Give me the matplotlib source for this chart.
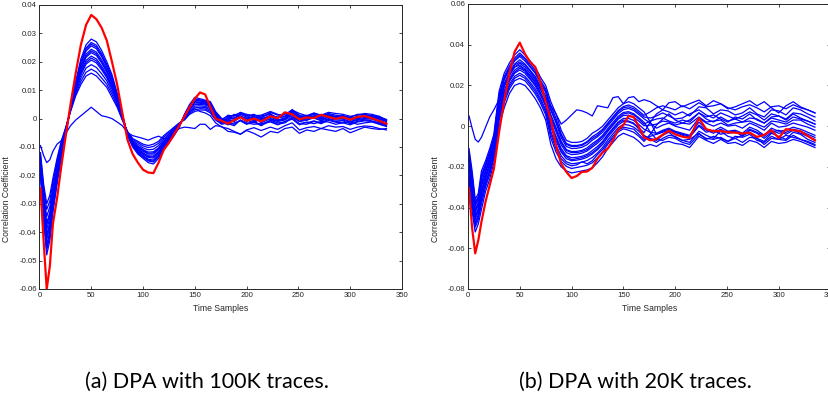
import numpy as np
from matplotlib import pyplot as plt
from matplotlib.ticker import FuncFormatter

# time sample positions shared by every trace
samples = [1, 4, 7, 10, 13, 17, 21, 25, 30, 35, 40, 45, 50, 55, 60, 65, 70, 75, 80, 85,
           90, 95, 100, 105, 110, 115, 120, 125, 130, 135, 140, 145, 150, 155, 160, 165, 170,
           176, 182, 188, 194, 200, 207, 214, 223, 230, 237, 244, 251, 258, 265, 272, 279,
           286, 293, 300, 307, 314, 321, 328, 335]

# ---- (a) 100K traces, correlation values in units of 1e-3 ----
a_correct = [-24.5, -43, -60, -52, -37, -28, -17, -7,
             5, 16, 26, 33, 36.5, 35, 32, 27.5, 20, 12,
             2, -7.5, -12.5, -15.5, -18, -19, -19.2, -15.5, -11, -8.5,
             -5.5, -2.5, 0.8, 4, 7, 9.2, 8.5, 4, 0,
             -0.8, -1.8, -0.5, 0.5, -0.8, 0, -1, 0.8, 0.1, 2.2, 1.5, -0.3, 0.4, 0.2, 1.3, 0.6,
             -0.1, 0.5, -0.4, 0.6, 0.9, 0.1, -0.8, -1.8]
a_odd = [-9.5, -13, -15.5, -14.5, -11.5, -9, -7.8, -5.5,
         -2.5, -0.5, 1, 2.5, 4, 2.5, 1, 0.6, 0, -1.2,
         -2.5, -5, -6, -6.5, -7, -7.6, -6.8, -6.2, -7, -7.5,
         -5, -3.5, -3, -3.2, -3.5, -2, -2, -3.8, -2.5,
         -2.8, -4.5, -4.8, -5.5, -4.2, -5.2, -6.5, -4.5, -5, -3.5, -3, -5.2, -4, -4.5, -3.5, -4,
         -4.5, -3.5, -5, -4, -3, -3.5, -3.8, -3.5]
a_key1 = [-12, -23, -30, -27, -21, -14, -8, -3.5, 2.5, 8, 12, 15, 16, 15, 13, 11, 7.5, 4, -0.5,
          -4.5, -7, -8, -9, -9.5, -9, -8, -6, -4.5, -3, -1.5, -0.5, 1.5, 2.5, 3, 3, 2, -0.5, -2,
          -1.5, -2, -0.5, -1.8, -1, -2.2, -0.5, -1.5, -1.2, 0.5, -1, -1.5, -0.8, -1.5, -0.2, -1,
          -0.8, -1.8, -1, -0.5, -0.8, -1.5, -2.2]
a_key2 = [-13, -24.5, -32, -29, -22.5, -15, -8.7, -3.8, 2.7, 8.6, 13.1, 16.3, 17.4, 16.4, 14.3,
          12.1, 8.5, 4.6, -0.3, -4.7, -7.4, -8.5, -9.6, -10.2, -9.8, -8.7, -6.6, -5, -3.4, -1.7,
          -0.3, 1.9, 3.1, 3.5, 3.4, 2.5, -0.1, -1.8,
          0.5, 1.2, 2, 0.8, 1.5, 0.3, 2.2, 1.2, 1.5, 3, 1.8, 1, 2, 1.2, 2.2, 1.8, 1.5, 0.8, 1.2,
          1.8, 1.5, 0.8, -0.5]
a_key3 = [-14, -26.3, -34.5, -31, -24, -16.3, -9.5, -4.1, 2.9, 9.3, 14.3, 17.8, 19, 18, 15.8,
          13.3, 9.5, 5.3, 0, -4.9, -7.8, -9.1, -10.3, -11, -10.8, -9.5, -7.3, -5.5, -3.8, -1.9,
          0, 2.4, 3.8, 4, 3.9, 3, 0.3, -1.5,
          -0.5, 0.3, 1, -0.2, 0.8, -0.6, 1.2, 0.4, 0.6, 2.4, 0.5, 0.2, 1, 0.4, 1.3, 0.8, 0.5,
          -0.2, 0.6, 0.9, 0.5, -0.2, -1]
a_key4 = [-15, -28, -36.8, -33, -25.6, -17.4, -10.3, -4.5, 3.1, 9.9, 15.4, 19.2, 20.6, 19.6,
          17.2, 14.4, 10.5, 5.9, 0.3, -5.1, -8.1, -9.7, -10.9, -11.8, -11.7, -10.3, -7.9, -6,
          -4.1, -2.1, 0.3, 2.8, 4.4, 4.5, 4.3, 3.5, 0.6, -1.2,
          -2.2, -1.5, -0.8, -2, -1.2, -2.5, -0.8, -2, -1.5, 0.2, -1.8, -2, -1, -1.8, -0.6, -1.3,
          -1.5, -2.2, -1.2, -0.8, -1, -1.8, -2.5]
a_key5 = [-16, -29.5, -39, -35, -27, -18.5, -11, -4.8, 3.2, 10.5, 16.5, 20.5, 22, 21, 18.5,
          15.5, 11.5, 6.5, 0.5, -5.3, -8.5, -10.3, -11.5, -12.5, -12.5, -11, -8.5, -6.5, -4.5,
          -2.3, 0.5, 3.3, 5, 5, 4.8, 4, 1, -1,
          0.2, -0.2, 1.5, 0.5, 0.2, 0.5, 1.8, -0.5, 0, 2.8, 1.2, 0, 0.5, 1, 1.5, 0.5, 1, 0.2, 0,
          1.2, 0.8, 0, -0.8]
a_key6 = [-16.8, -30.8, -40.8, -36.6, -28.2, -19.4, -11.6, -5, 3.4, 11, 17.4, 21.6, 23.2, 22.2,
          19.6, 16.4, 12.3, 7, 0.7, -5.4, -8.8, -10.7, -12, -13.1, -13.2, -11.6, -9, -6.9, -4.8,
          -2.4, 0.7, 3.6, 5.5, 5.4, 5.1, 4.4, 1.3, -0.8,
          -1, -0.5, 0.5, -1, 0.5, -1.5, 0, -0.8, -0.2, 1.5, -0.5, -0.6, 0.3, -0.5, 0.5, 0, -0.2,
          -1, -0.3, 0, -0.2, -1, -1.8]
a_key7 = [-17.6, -32.1, -42.6, -38.2, -29.4, -20.3, -12.2, -5.3, 3.6, 11.5, 18.3, 22.7, 24.4,
          23.4, 20.7, 17.3, 13.1, 7.5, 0.9, -5.6, -9.1, -11.2, -12.5, -13.7, -13.9, -12.2, -9.5,
          -7.3, -5.1, -2.6, 0.9, 4, 6, 5.8, 5.5, 4.8, 1.6, -0.6,
          1.2, 0.8, 2.2, 1.5, 1, 1.2, 2.5, 1.5, 0.8, 3.2, 1, 0.8, 1.8, 0.8, 1.8, 1.2, 0.8, 0.5,
          1.5, 1.5, 1, 0.5, -0.3]
a_key8 = [-18.4, -33.4, -44.4, -39.8, -30.6, -21.2, -12.8, -5.5, 3.7, 12, 19.2, 23.8, 25.6,
          24.6, 21.8, 18.2, 13.9, 8, 1.1, -5.7, -9.4, -11.6, -13, -14.3, -14.6, -12.8, -10, -7.7,
          -5.4, -2.7, 1.1, 4.3, 6.5, 6.2, 5.8, 5.2, 1.9, -0.4,
          -1.8, -2.5, -0.5, -1.5, -2, -1.8, -1.2, -2.2, -1, -0.2, -2.2, -1.2, -1.8, -1, -1.2, -2,
          -1.5, -1.2, -2, -1.5, -1.2, -2, -2.8]
a_key9 = [-19.2, -34.7, -46.2, -41.4, -31.8, -22.1, -13.4, -5.8, 3.9, 12.5, 20.1, 24.9, 26.8,
          25.8, 22.9, 19.1, 14.7, 8.5, 1.3, -5.9, -9.7, -12.1, -13.5, -14.9, -15.3, -13.4, -10.5,
          -8.1, -5.7, -2.9, 1.3, 4.7, 7, 6.6, 6.2, 5.6, 2.2, -0.2,
          0.8, 0, 1.8, 1.2, -0.2, 1, 1.5, 0.3, 0.8, 2.5, 0.3, 0.6, 1.5, 0, 1.2, 0.6, 0.8, 0.4,
          0.5, 0.8, 1.2, 0.2, -0.5]
a_key10 = [-20, -36, -48, -43, -33, -23, -14, -6, 4, 13, 21, 26, 28, 27, 24, 20, 15.5, 9, 1.5,
           -6, -10, -12.5, -14, -15.5, -16, -14, -11, -8.5, -6, -3, 1.5, 5, 7.5, 7, 6.5, 6, 2.5, 0,
           -0.5, -1, 0.5, 0.2, -0.8, -0.3, 0.5, -0.5, 0.2, 1.8, -0.3, -0.5, 0.8, -0.2, 0.5, 0,
           0.2, -0.5, 0, 0.4, 0.5, -0.5, -1.5]
a_key11 = [-17, -31.5, -41.5, -37.5, -29, -20, -12, -5.2, 3.5, 11.2, 17.8, 22, 23.8, 22.8, 20,
           16.8, 12.6, 7.2, 0.8, -5.5, -9, -11, -12.3, -13.4, -13.5, -12, -9.3, -7.1, -5, -2.5,
           0.5, 3.8, 5.8, 5.6, 5.3, 4.6, 1.4, -0.7,
           0, 1.5, 0.5, -0.5, 1.2, 0, 1, 0.5, 1.8, 2, 0.5, 1.2, 0, 1.5, 0.8, 0.2, 1.2, -0.5, 0.8,
           1, 0.2, 0.8, -0.8]
a_key12 = [-18.8, -34, -45.5, -40.5, -31.2, -21.6, -13.1, -5.6, 3.8, 12.3, 19.7, 24.4, 26.2,
           25.2, 22.3, 18.6, 14.3, 8.2, 1.2, -5.8, -9.5, -11.8, -13.3, -14.6, -15, -13.1, -10.2,
           -7.9, -5.5, -2.8, 1.2, 4.5, 6.8, 6.4, 6, 5.4, 2, -0.3,
           -1.2, -0.8, 0.8, -0.5, -1.5, 0.2, -0.3, -1, -0.5, 1, -1, 0, 0.2, -0.8, 0, -0.5, -0.6,
           -1.2, -0.6, -0.2, 0, -1.2, -2]
a_key13 = [-15.5, -28.5, -37.5, -33.8, -26.2, -17.8, -10.6, -4.6, 3.2, 10.2, 16, 19.8, 21.3,
           20.3, 17.8, 14.9, 11, 6.2, 0.4, -5.2, -8.3, -10, -11.2, -12.2, -12.1, -10.6, -8.2,
           -6.2, -4.3, -2.2, 0.2, 2.5, 3.5, 2.5, 2, 1, -1.5, -3,
           -3.5, -4.5, -5.5, -4, -3.2, -4.2, -3, -3.8, -2.5, -1.5, -4, -3.2, -2.8, -3.5, -2.5, -3,
           -2.8, -3.8, -3, -2.6, -2.8, -3.5, -4]

# ---- (b) 20K traces, correlation values in units of 1e-3 ----
b_correct = [-30.5, -50, -62.5, -56, -47, -37, -29, -21,
             -3, 12.5, 26, 36.5, 41, 35.5, 31.5, 29, 21.5, 12,
             3, -9.5, -18.5, -22.5, -25.5, -24.5, -22.5, -22.3, -20.5, -16,
             -13, -11, -7, -1.8, 0.5, 5, 4.5, -0.5, -5.5,
             -7, -6.3, -4.2, -2.2, -4, -5.2, -5.8, 3.9, -1.5, -2.5, -2.4, -3, -3.2, -3.6, -3.2,
             -5.3, -4.3, -2, -5.8, -1.5, -2, -2.5, -4.8, -7]
b_odd = [5, -1, -6.5, -7.8, -5.5, -0.5, 4.5, 8,
         13, 20, 25, 29, 30, 28, 25, 22, 18, 14,
         10, 6, 1, 3, 5.5, 8, 7.5, 6.5, 5, 10,
         9.5, 9, 14, 14.5, 11, 14, 14.5, 12, 13,
         12, 10, 8, 11.5, 12, 9.5, 11, 12.8, 10, 12.5, 11, 8.5, 9.5, 11, 12.5, 10, 12, 9, 6.5,
         10, 12, 9.5, 8, 6.5]
b_key1 = [-30, -42, -52, -48, -41, -32, -26, -18, 0, 9, 16, 20, 21, 20, 17, 13.5, 9, 3,
          -9, -16, -20, -22, -23, -22.5, -22, -21.5, -20.5, -18, -15, -11, -8, -5, -3.5, -4.5,
          -5.5, -7.5, -10,
          -9, -10, -8, -7.5, -8.5, -9, -10.5, -5, -7, -8.5, -6.5, -8.5, -8, -9.5, -7, -8, -10.5,
          -7.5, -8.5, -8, -6.5, -7.5, -9, -10.5]
b_key2 = [-27.2, -39, -49.6, -45.8, -38.2, -29.8, -23.8, -15.9, 2.6, 11.6, 18.3, 22.3, 23.5,
          22.3, 19.3, 15.8, 11.3, 5.6, -5.9, -12.7, -17.3, -19.8, -20.8, -20.3, -19.8, -19.2,
          -18, -15.6, -12.8, -8.9, -5.9, -2.9, -1.3, -2, -3, -5, -7.5,
          -4, 0.5, 3.5, 6, 3, 1.5, 3, 6.5, 4.5, 5.5, 3.5, 2, 4.5, 3.5, 6, 3, 1.5, 4.5, 5, 3, 6,
          4, 2.5, 1]
b_key3 = [-24.3, -36, -47.2, -43.5, -35.3, -27.5, -21.5, -13.8, 5.1, 14.1, 20.5, 24.5, 26,
          24.5, 21.5, 18.2, 13.5, 8.1, -2.7, -9.4, -14.6, -17.5, -18.5, -18.2, -17.7, -16.9,
          -15.4, -13.2, -10.5, -6.8, -3.8, -0.8, 0.9, 0.5, -0.5, -2.5, -4.9,
          -6, -7, -4.5, -3, -5.5, -7, -8, -2.5, -4.5, -6, -2.5, -5, -6, -4.5, -3, -6, -7.5, -3.5,
          -5, -6.5, -3, -4, -6.5, -8]
b_key4 = [-22.4, -34, -45.6, -42, -33.4, -26, -20, -12.4, 6.8, 15.8, 22, 26, 27.6, 26, 23,
          19.7, 15, 9.8, -0.6, -7.2, -12.8, -16, -17, -16.7, -16.2, -15.3, -13.7, -11.6, -9,
          -5.4, -2.4, 0.6, 2.3, 2.1, 1.1, -0.9, -3.2,
          2, 6, 8, 7, 5.5, 7, 5, 9.5, 9, 6, 8, 7.5, 5.5, 6.5, 9, 6, 4.5, 8, 7.5, 5.5, 9, 8, 6,
          4.5]
b_key5 = [-20.5, -32, -44, -40.5, -31.5, -24.5, -18.5, -11, 8.5, 17.5, 23.5, 27.5, 29.3, 27.5,
          24.5, 21.3, 16.5, 11.5, 1.5, -5, -11, -14.5, -15.5, -15.3, -14.8, -13.8, -12, -10,
          -7.5, -4, -1, 2, 3.8, 3.8, 2.8, 0.8, -1.5,
          -3, -3.5, -2, -1, -2.5, -3.5, -4.5, 2, -1.5, -2.5, -0.5, -2.5, -2, -3.5, -0.5, -2,
          -4.5, -1, -2.5, -2, -0.5, -1.5, -3, -4.5]
b_key6 = [-18.6, -30, -42.4, -39, -29.6, -23, -17, -9.6, 10.2, 19.2, 25, 29, 30.9, 29, 26,
          22.8, 18, 13.2, 3.6, -2.8, -9.2, -13, -14, -13.8, -13.3, -12.2, -10.3, -8.4, -6, -2.6,
          0.4, 3.4, 5.2, 5.4, 4.4, 2.4, 0.2,
          0.5, 1, 2.5, 2, 0.5, 1.5, 1, 4.5, 2, 2.5, 3, 0.5, 1.5, 2, 2.5, 1, -0.5, 2.5, 2, 1, 3,
          3, 1, -0.5]
b_key7 = [-16.7, -28, -40.8, -37.5, -27.7, -21.5, -15.5, -8.2, 11.9, 20.9, 26.5, 30.5, 32.6,
          30.5, 27.5, 24.4, 19.5, 14.9, 5.7, -0.6, -7.4, -11.5, -12.5, -12.4, -11.9, -10.7,
          -8.6, -6.8, -4.5, -1.2, 1.8, 4.8, 6.7, 7.1, 6.1, 4.1, 1.9,
          -3, -6.5, -7, -5.5, -6, -8, -9, -4, -6, -6.5, -5.5, -7.5, -6, -8, -5.5, -6, -9, -6,
          -6.5, -7, -4.5, -6.5, -8, -9.5]
b_key8 = [-14.8, -26, -39.2, -36, -25.8, -20, -14, -6.8, 13.6, 22.6, 28, 32, 34.2, 32, 29,
          25.9, 21, 16.6, 7.8, 1.6, -5.6, -10, -11, -10.9, -10.4, -9.1, -6.9, -5.2, -3, 0.2,
          3.2, 6.2, 8.1, 8.7, 7.7, 5.7, 3.6,
          1.5, -1, 0.5, 1.5, 0, -1, -2, 4, 1.5, 0, 1.5, 0, 0.5, -1, 1.5, 0, -2, 1.5, -0.5, 0,
          1.5, 0.5, -0.5, -2]
b_key9 = [-12.9, -24, -37.6, -34.5, -23.9, -18.5, -12.5, -5.4, 15.3, 24.3, 29.5, 33.5, 35.9,
          33.5, 30.5, 27.5, 22.5, 18.3, 9.9, 3.8, -3.8, -8.5, -9.5, -9.5, -9, -7.6, -5.2, -3.6,
          -1.5, 1.6, 4.6, 7.6, 9.6, 10.4, 9.4, 7.4, 5.3,
          7, 9, 10, 9, 8, 10, 8.5, 11.5, 9.5, 10, 11, 9, 8, 9.5, 10.5, 9, 7, 9.5, 10, 8.5, 10.5,
          9, 8, 6.5]
b_key10 = [-11, -22, -36, -33, -22, -17, -11, -4, 17, 26, 31, 35, 37.5, 35, 32, 29, 24, 20,
           12, 6, -2, -7, -8, -8, -7.5, -6, -3.5, -2, 0, 3, 6, 9, 11, 12, 11, 9, 7,
           2, -4, -3, -2, -3, -4, -5, 0.5, -2, -3.5, -1.5, -3.5, -3, -4.5, -1.5, -3, -5, -2,
           -3.5, -3, -1.5, -2.5, -4, -5.5]
b_key11 = [-25.5, -37.5, -48.5, -44.5, -36.5, -28.5, -22.5, -14.5, 4, 13, 19.5, 23.5, 25,
           23.5, 20.5, 17, 12.5, 7, -4, -11, -16, -18.5, -19.5, -19, -17.5, -18.5, -17, -14,
           -11.5, -8, -5, -2, -0.5, -1, -1.5, -4, -6.5,
           -5, -4, -2.5, -1.5, -3, -4.5, -5.5, 0, -3, -2, -4, -3, -2.5, -5, -2, -3.5, -6, -3, -2,
           -4, -2, -3.5, -5, -6.5]
b_key12 = [-14, -25, -38.5, -35, -25, -19, -13, -6, 14.5, 23.5, 28.5, 32.5, 35, 33, 29.5, 26.5,
           21.5, 17.5, 8.5, 2.5, -4.5, -9, -10, -10, -9.5, -8, -6, -4.5, -2, 1, 4, 7, 9, 9.5,
           8.5, 6.5, 4.5,
           4, 5, 6.5, 5, 3.5, 4, 6, 8, 5.5, 4, 6.5, 5, 3.5, 5, 7, 5.5, 3, 6, 5, 3.5, 6.5, 6, 4.5,
           2.5]
b_key13 = [-21, -33, -45, -41, -32.5, -25, -19, -11.5, 7.5, 16.5, 22.5, 26.5, 28.5, 27, 23.5,
           20.5, 16, 10.5, 0.5, -6, -12, -15, -16.5, -16, -15.5, -14.5, -13, -11, -8, -4.5, -1.5,
           1.5, 3, 2.5, 1.5, -1.5, -4.5,
           -6.5, -8, -6, -4.5, -5, -7, -6.5, -3.5, -6.5, -5, -6, -7.5, -5, -5.5, -4, -7, -8, -5,
           -6.5, -4.5, -5.5, -6.5, -7.5, -9]
b_key14 = [-17.5, -29, -41.5, -38, -28.5, -22, -16, -9, 11, 20, 26, 30, 31.5, 30, 27, 23.5, 19,
           14, 4.5, -1.5, -8, -12, -13, -13, -12.5, -11.5, -9.5, -7.5, -5, -2, 1, 4, 6, 6.5, 5.5,
           3.5, 1,
           2.5, 3.5, 4, 2.5, 1.5, 3, 2, 6.5, 3.5, 2, 4.5, 2.5, 3.5, 2, 4, 3.5, 1.5, 4, 3, 2, 4.5,
           3.5, 2.5, 1]

panels = [
    {"correct": a_correct,
     "wrong": [a_key1, a_key2, a_key3, a_key4, a_key5, a_key6, a_key7, a_key8, a_key9,
               a_key10, a_key11, a_key12, a_key13, a_odd],
     "ylim": (-0.06, 0.04), "yticks": np.arange(-0.06, 0.0401, 0.01),
     "caption": "(a) DPA with 100K traces."},
    {"correct": b_correct,
     "wrong": [b_key1, b_key2, b_key3, b_key4, b_key5, b_key6, b_key7, b_key8, b_key9,
               b_key10, b_key11, b_key12, b_key13, b_key14, b_odd],
     "ylim": (-0.08, 0.06), "yticks": np.arange(-0.08, 0.0601, 0.02),
     "caption": "(b) DPA with 20K traces."},
]

plt.rcParams["font.family"] = ["Liberation Sans", "DejaVu Sans"]

fig = plt.figure(figsize=(8.29, 3.99), dpi=100)
boxes = [[0.0476, 0.2757, 0.4373, 0.7118], [0.5645, 0.2757, 0.4373, 0.7143]]
label_x = [0.0135, 0.531]
caption_x = [0.2497, 0.766]

x = np.array(samples)
for k, p in enumerate(panels):
    ax = fig.add_axes(boxes[k])
    for v in p["wrong"]:
        ax.plot(x, np.array(v) * 1e-3, color="#0000ff", lw=0.9)
    ax.plot(x, np.array(p["correct"]) * 1e-3, color="#ff0000", lw=1.6)

    ax.set_xlim(0, 350)
    ax.set_ylim(*p["ylim"])
    ax.set_xticks(np.arange(0, 351, 50))
    ax.set_yticks(p["yticks"])
    ax.yaxis.set_major_formatter(FuncFormatter(lambda v, _: f"{round(v, 3):g}"))
    ax.tick_params(direction="in", top=True, right=True, length=2.5, width=0.6,
                   labelsize=5.6, colors="#262626", pad=2)
    for s in ax.spines.values():
        s.set_color("#262626")
        s.set_linewidth(0.7)
    ax.set_xlabel("Time Samples", fontsize=6.2, color="#262626", labelpad=3.5)
    ax.set_ylabel("Correlation Coefficient", fontsize=6.2, color="#262626")
    ax.yaxis.set_label_coords(label_x[k], 0.5, transform=fig.transFigure)

    fig.text(caption_x[k], 0.043, p["caption"], ha="center", va="center",
             fontsize=15.5, family=["Lato", "DejaVu Sans"])

fig.savefig("out.png", dpi=100)
